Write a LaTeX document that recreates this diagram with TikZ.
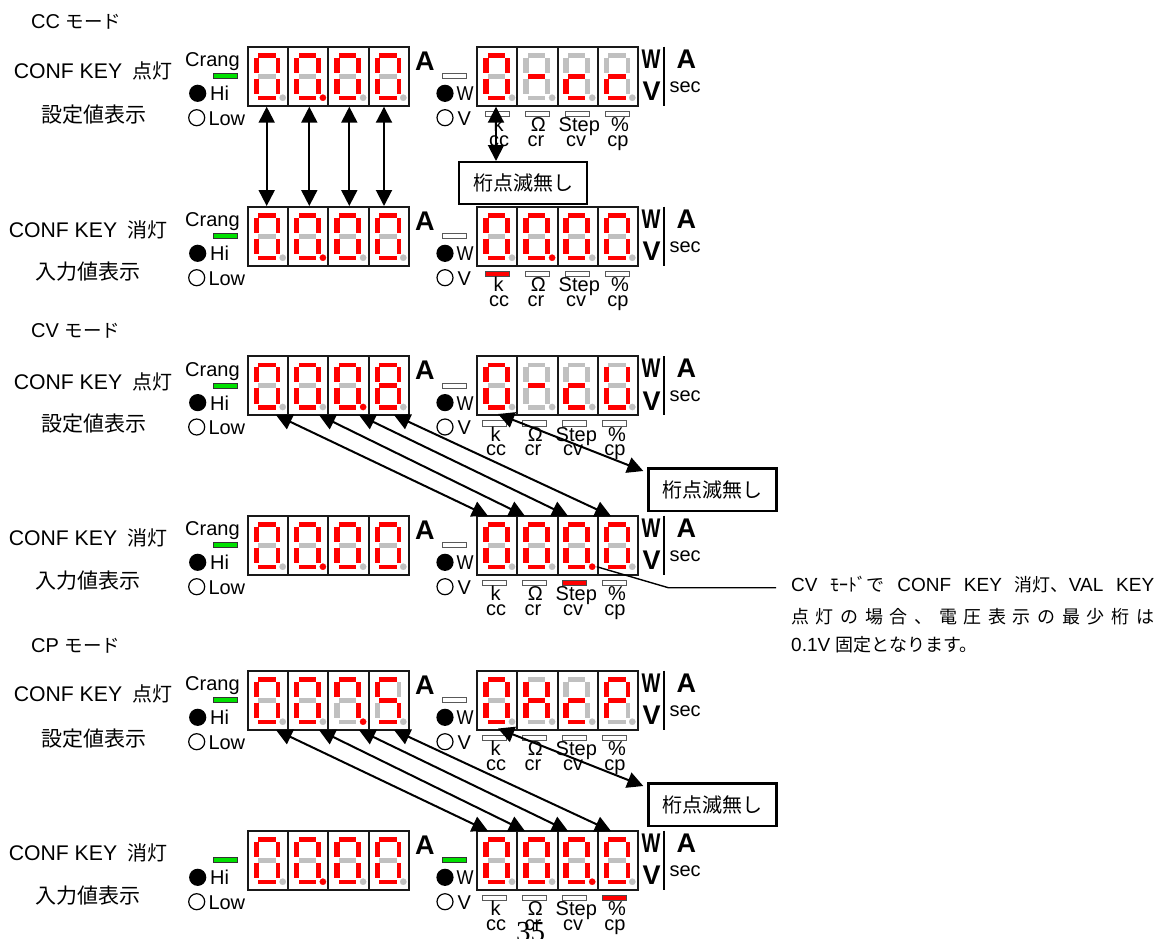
\documentclass[tikz,border=0pt]{standalone}
\usepackage{fontspec}
\usepackage{graphicx}
\setmainfont{Liberation Sans}
\newfontfamily\jp{Noto Sans CJK JP}
\usetikzlibrary{arrows.meta}
\definecolor{segon}{RGB}{255,0,0}
\definecolor{segoff}{RGB}{192,192,192}
\definecolor{bargreen}{RGB}{0,225,0}
\tikzset{
  seg0/.style={fill=segoff,draw=segoff,line width=.15pt},
  seg1/.style={fill=segon,draw=segon,line width=.15pt},
  cellframe/.style={draw=black!90,line width=2pt,fill=white},
  baroff/.style={draw=black!65,line width=1pt,fill=white},
  bargr/.style={draw=black!80,line width=1pt,fill=bargreen},
  barred/.style={draw=black!70,line width=1pt,fill=segon},
  txt/.style={inner sep=0pt,font=\fontsize{20}{24}\selectfont},
  lbl/.style={txt,anchor=base west},
  lblc/.style={txt,anchor=base},
  bigl/.style={inner sep=0pt,anchor=base west,font=\fontsize{27}{30}\selectfont\bfseries},
  conftxt/.style={inner sep=0pt,font=\fontsize{21.2}{24}\selectfont},
  jptxt/.style={inner sep=0pt,font=\fontsize{21}{24}\selectfont\jp},
  modetxt/.style={inner sep=0pt,anchor=base west,font=\fontsize{20}{24}\selectfont},
  notetxt/.style={inner sep=0pt,anchor=base west,font=\fontsize{19}{22}\selectfont},
  nobox/.style={draw=black,line width=2.5pt,fill=white,inner sep=0pt,minimum width=128pt,minimum height=42.3pt,font=\fontsize{20}{24}\selectfont\jp},
  twohead/.style={line width=2pt,{Triangle[length=16pt,width=16pt]}-{Triangle[length=16pt,width=16pt]}},
  leader/.style={line width=1.4pt},
}
\newcommand\kana[1]{{\jp\fontsize{18.5}{20}\selectfont #1}}
\newcommand\kon{{\jp\fontsize{20}{24}\selectfont 点灯}}
\newcommand\koff{{\jp\fontsize{20}{24}\selectfont 消灯}}
\def\segs#1#2#3#4#5#6#7#8\relax{%
  \path[seg#1] (10.5,6.7) rectangle (27,10.3);
  \path[seg#2] (28,11) rectangle (31.4,25);
  \path[seg#3] (28,32.3) rectangle (31.4,46.6);
  \path[seg#4] (10.5,49) rectangle (27,52.6);
  \path[seg#5] (6,32.3) rectangle (10.3,46.6);
  \path[seg#6] (6,11) rectangle (10.3,25);
  \path[seg#7] (10.5,27.3) rectangle (27,31.3);
  \path[seg#8] (34.7,51) circle (3.2pt);
}
\newcommand\digitcell[3]{%
  \begin{scope}[shift={(#1,#2)}]
    \draw[cellframe] (0,0) rectangle (40.2,59.3);
    \expandafter\segs#3\relax
  \end{scope}}
\newcommand\leftdisp[7]{% id top crang d1..d4
  \digitcell{248}{#2}{#4}\digitcell{288.2}{#2}{#5}\digitcell{328.4}{#2}{#6}\digitcell{368.6}{#2}{#7}
  \begin{scope}[shift={(0,#2)}]
    #3
    \draw[bargr] (213.3,27) rectangle (237.3,32);
    \fill[black] (197.7,46.6) circle (8.6pt);
    \draw[black,line width=1.2pt] (196.7,71) circle (8pt);
    \node[lbl] (#1-hi) at (210,54) {Hi};
    \node[lbl] (#1-low) at (208.3,78.3) {Low};
    \node[bigl] (#1-a) at (415,23.3) {A};
  \end{scope}}
\newcommand\crang[1]{\node[lbl] (#1-crang) at (185,20) {Crang};}
\newcommand\rightdisp[7]{% id top wbar d1..d4
  \digitcell{477.3}{#2}{#4}\digitcell{517.4}{#2}{#5}\digitcell{557.5}{#2}{#6}\digitcell{597.6}{#2}{#7}
  \begin{scope}[shift={(0,#2)}]
    \draw[#3] (442.3,27) rectangle (466.7,32);
    \fill[black] (445,46.6) circle (8.6pt);
    \draw[black,line width=1.2pt] (445,71) circle (8pt);
    \node[lbl] (#1-w) at (456.5,54) {\scalebox{.9}[1]{W}};
    \node[lbl] (#1-v) at (457.3,78.3) {V};
    \node[bigl] (#1-bw) at (641.5,21.7) {\scalebox{.74}[1]{W}};
    \node[bigl] (#1-bv) at (642.5,54) {V};
    \draw[line width=2pt] (664.3,0) -- (664.3,59);
    \node[bigl] (#1-ba) at (676.5,21.7) {A};
    \node[lbl] (#1-sec) at (669.3,45.7) {sec};
  \end{scope}}
\newcommand\rightlabels[7]{% id top shift k o s p
  \begin{scope}[shift={(#3,#2)}]
    \draw[#4] (485.3,64.3) rectangle (509.8,70);
    \draw[#5] (525.3,64.3) rectangle (549.8,70);
    \draw[#6] (565.3,64.3) rectangle (589.8,70);
    \draw[#7] (605.3,64.3) rectangle (629.8,70);
    \node[lblc] (#1-k) at (498.5,85) {k};
    \node[lblc] (#1-cc) at (499,99.3) {cc};
    \node[lblc] (#1-o) at (538.3,85) {Ω};
    \node[lblc] (#1-cr) at (536,99.3) {cr};
    \node[lblc] (#1-st) at (579.3,85) {Step};
    \node[lblc] (#1-cv) at (576,99.3) {cv};
    \node[lblc] (#1-pc) at (620,85) {\%};
    \node[lblc] (#1-cp) at (618,99.3) {cp};
  \end{scope}}
\begin{document}
\begin{tikzpicture}[x=1pt,y=-1pt]
\useasboundingbox (0,0) rectangle (1165,938);
\def\Z{11111100}\def\D{11111101}
% panels
\leftdisp{pa}{46.7}{\crang{pa}}{\Z}{\D}{\Z}{\Z}
\rightdisp{pa}{46.7}{baroff}{\Z}{00000010}{00011010}{00011010}
\rightlabels{pa}{46.7}{0}{baroff}{baroff}{baroff}{baroff}
\leftdisp{pb}{206.7}{\crang{pb}}{\Z}{\D}{\Z}{\Z}
\rightdisp{pb}{206.7}{baroff}{\Z}{\D}{\Z}{\Z}
\rightlabels{pb}{206.7}{0}{barred}{baroff}{baroff}{baroff}
\leftdisp{pc}{356}{\crang{pc}}{\Z}{\Z}{\D}{11111110}
\rightdisp{pc}{356}{baroff}{\Z}{00000010}{00011010}{01111100}
\rightlabels{pc}{356}{-3}{baroff}{baroff}{baroff}{baroff}
\leftdisp{pd}{515.7}{\crang{pd}}{\Z}{\D}{\Z}{\Z}
\rightdisp{pd}{515.7}{baroff}{\Z}{\Z}{\D}{\Z}
\rightlabels{pd}{515.7}{-3}{baroff}{baroff}{barred}{baroff}
\leftdisp{pe}{670.7}{\crang{pe}}{\Z}{\Z}{11100101}{10110110}
\rightdisp{pe}{670.7}{baroff}{\Z}{01101110}{00011010}{11001110}
\rightlabels{pe}{670.7}{-3}{baroff}{baroff}{baroff}{baroff}
\leftdisp{pf}{830.7}{}{\Z}{\D}{\Z}{\Z}
\rightdisp{pf}{830.7}{bargr}{\Z}{\Z}{\D}{\Z}
\rightlabels{pf}{830.7}{-3}{baroff}{baroff}{baroff}{barred}
% side texts
\node[modetxt] (mcc) at (31,28.3) {CC \kana{モード}};
\node[conftxt] (t1) at (93,71) {CONF KEY\hspace{10pt}\kon};
\node[jptxt] (t2) at (94,115) {設定値表示};
\node[conftxt] (t3) at (88,230) {CONF KEY\hspace{10pt}\koff};
\node[jptxt] (t4) at (88,272) {入力値表示};
\node[modetxt] (mcv) at (31,337.6) {CV \kana{モード}};
\node[conftxt] (t5) at (93,382) {CONF KEY\hspace{10pt}\kon};
\node[jptxt] (t6) at (94,423.5) {設定値表示};
\node[conftxt] (t7) at (88,538) {CONF KEY\hspace{10pt}\koff};
\node[jptxt] (t8) at (88,581) {入力値表示};
\node[modetxt] (mcp) at (31,652.3) {CP \kana{モード}};
\node[conftxt] (t9) at (93,694) {CONF KEY\hspace{10pt}\kon};
\node[jptxt] (t10) at (94,738.5) {設定値表示};
\node[conftxt] (t11) at (88,853) {CONF KEY\hspace{10pt}\koff};
\node[jptxt] (t12) at (88,896) {入力値表示};
% boxes
\node[nobox] (boxa) at (523.2,182.9) {桁点滅無し};
\node[nobox] (boxc) at (712.5,489.6) {桁点滅無し};
\node[nobox] (boxe) at (712.5,804.6) {桁点滅無し};
% note
\node[notetxt] (note1) at (791,591) {\makebox[363pt][s]{CV {\jp\fontsize{18}{22}\selectfont ﾓｰﾄﾞ}{\jp\fontsize{18}{22}\selectfont で} CONF KEY {\jp\fontsize{18}{22}\selectfont 消灯、}VAL KEY}};
\node[notetxt] (note2) at (791,623) {\jp\fontsize{18}{22}\selectfont\makebox[363pt][s]{点\hfill 灯\hfill の\hfill 場\hfill 合\hfill 、\hfill 電\hfill 圧\hfill 表\hfill 示\hfill の\hfill 最\hfill 少\hfill 桁\hfill は}};
\node[notetxt] (note3) at (791,651) {0.1V {\jp\fontsize{18}{22}\selectfont 固定となります。}};
\coordinate (ldot) at (596.7,566.7);
\coordinate (lbend) at (668.3,587.7);
\coordinate (lend) at (776,587.7);
\draw[leader] (ldot) -- (lbend) -- (lend);
% connectors
\foreach \n/\x in {1/266.7,2/309.3,3/349.3,4/384}{
  \coordinate (vt\n) at (\x,106.7);
  \coordinate (vb\n) at (\x,206);
  \draw[twohead] (vt\n) -- (vb\n);
}
\coordinate (rt) at (496,106.7);
\coordinate (rb) at (496,161);
\draw[twohead] (rt) -- (rb);
\foreach \n/\u/\l in {1/276/488,2/319/525,3/359/568,4/394/611}{
  \coordinate (cu\n) at (\u,415);
  \coordinate (cl\n) at (\l,516);
  \draw[twohead] (cu\n) -- (cl\n);
  \coordinate (eu\n) at (\u,730);
  \coordinate (el\n) at (\l,831);
  \draw[twohead] (eu\n) -- (el\n);
}
\coordinate (cx1) at (498,414);
\coordinate (cx2) at (643.3,471);
\draw[twohead] (cx1) -- (cx2);
\coordinate (ex1) at (498,728.5);
\coordinate (ex2) at (643.3,786);
\draw[twohead] (ex1) -- (ex2);
% page number
\node[inner sep=0pt,anchor=base,font=\fontsize{29}{30}\selectfont\fontspec{Liberation Serif}] (pg) at (530.5,941) {35};
\end{tikzpicture}
\end{document}
